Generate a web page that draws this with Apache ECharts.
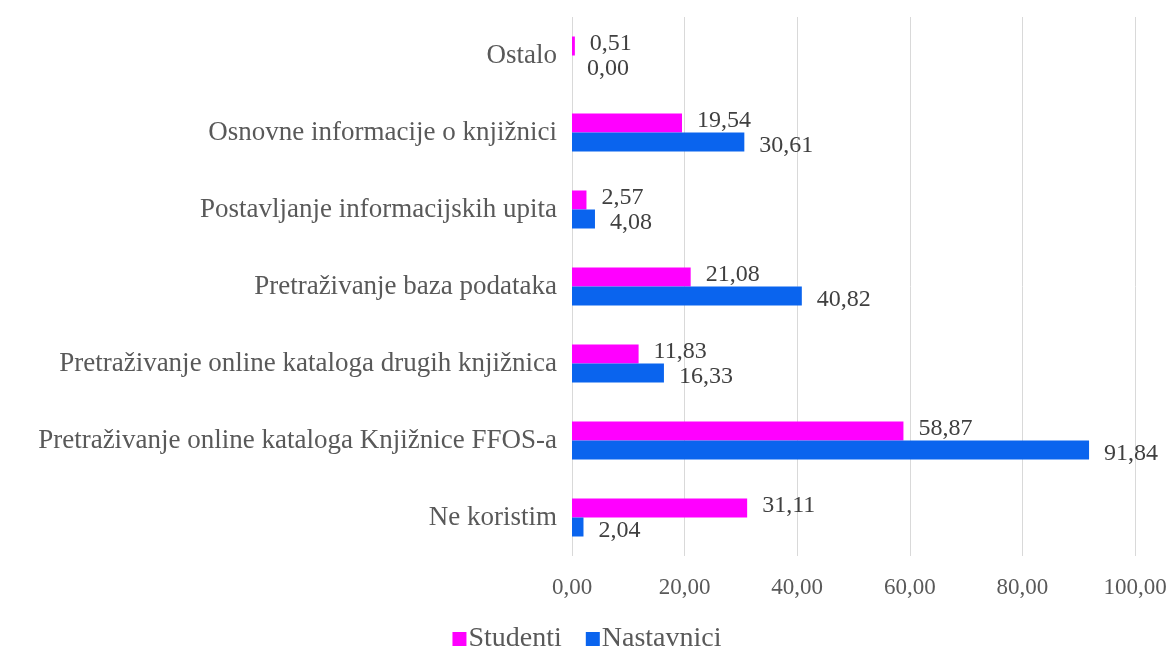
<!DOCTYPE html>
<html>
<head>
<meta charset="utf-8">
<script src="https://cdn.jsdelivr.net/npm/echarts@6/dist/echarts.min.js"></script>
<style>
  html, body { margin: 0; padding: 0; background: #fff; }
  #chart { width: 1174px; height: 653px; }
</style>
</head>
<body>
<div id="chart"></div>
<script>
// kategorije odozdo prema gore (kao na osi)
const categories = [
  'Ne koristim',
  'Pretraživanje online kataloga Knjižnice FFOS-a',
  'Pretraživanje online kataloga drugih knjižnica',
  'Pretraživanje baza podataka',
  'Postavljanje informacijskih upita',
  'Osnovne informacije o knjižnici',
  'Ostalo'
]
const studenti = [31.11, 58.87, 11.83, 21.08, 2.57, 19.54, 0.51]
const nastavnici = [2.04, 91.84, 16.33, 40.82, 4.08, 30.61, 0.00]
const legendNames = ['Studenti', 'Nastavnici']

const fontFamily = '"Liberation Serif", "Times New Roman", serif'
const fmt = v => Number(v).toFixed(2).replace('.', ',')

const chart = echarts.init(document.getElementById('chart'))

chart.setOption({
  animation: false,
  textStyle: { fontFamily: fontFamily },
  grid: { left: 572, right: 39, top: 17, bottom: 97 },
  legend: {
    data: legendNames,
    bottom: -5,
    left: 'center',
    itemWidth: 14,
    itemHeight: 14,
    itemGap: 24,
    icon: 'rect',
    textStyle: { fontFamily: fontFamily, fontSize: 28, color: '#595959', padding: [0, 0, 0, -3] }
  },
  xAxis: {
    type: 'value',
    min: 0,
    max: 100,
    interval: 20,
    axisLine: { show: false },
    axisTick: { show: false },
    splitLine: { lineStyle: { color: '#d9d9d9', width: 1 } },
    axisLabel: {
      formatter: fmt,
      color: '#595959',
      fontSize: 23,
      margin: 20,
      fontFamily: fontFamily
    }
  },
  yAxis: {
    type: 'category',
    data: categories,
    axisLine: { show: false },
    axisTick: { show: false },
    axisLabel: {
      color: '#595959',
      fontSize: 27,
      margin: 15,
      fontFamily: fontFamily
    }
  },
  series: [
    {
      name: 'Studenti',
      type: 'bar',
      data: studenti,
      barWidth: 19,
      barGap: '0%',
      itemStyle: { color: '#ff00ff' },
      label: {
        show: true,
        position: 'right',
        distance: 15,
        offset: [0, -2],
        formatter: p => fmt(p.value),
        color: '#404040',
        fontSize: 24,
        fontFamily: fontFamily
      }
    },
    {
      name: 'Nastavnici',
      type: 'bar',
      data: nastavnici,
      barWidth: 19,
      barGap: '0%',
      itemStyle: { color: '#0a64ee' },
      label: {
        show: true,
        position: 'right',
        distance: 15,
        offset: [0, 4],
        formatter: p => fmt(p.value),
        color: '#404040',
        fontSize: 24,
        fontFamily: fontFamily
      }
    }
  ]
})
</script>
</body>
</html>
